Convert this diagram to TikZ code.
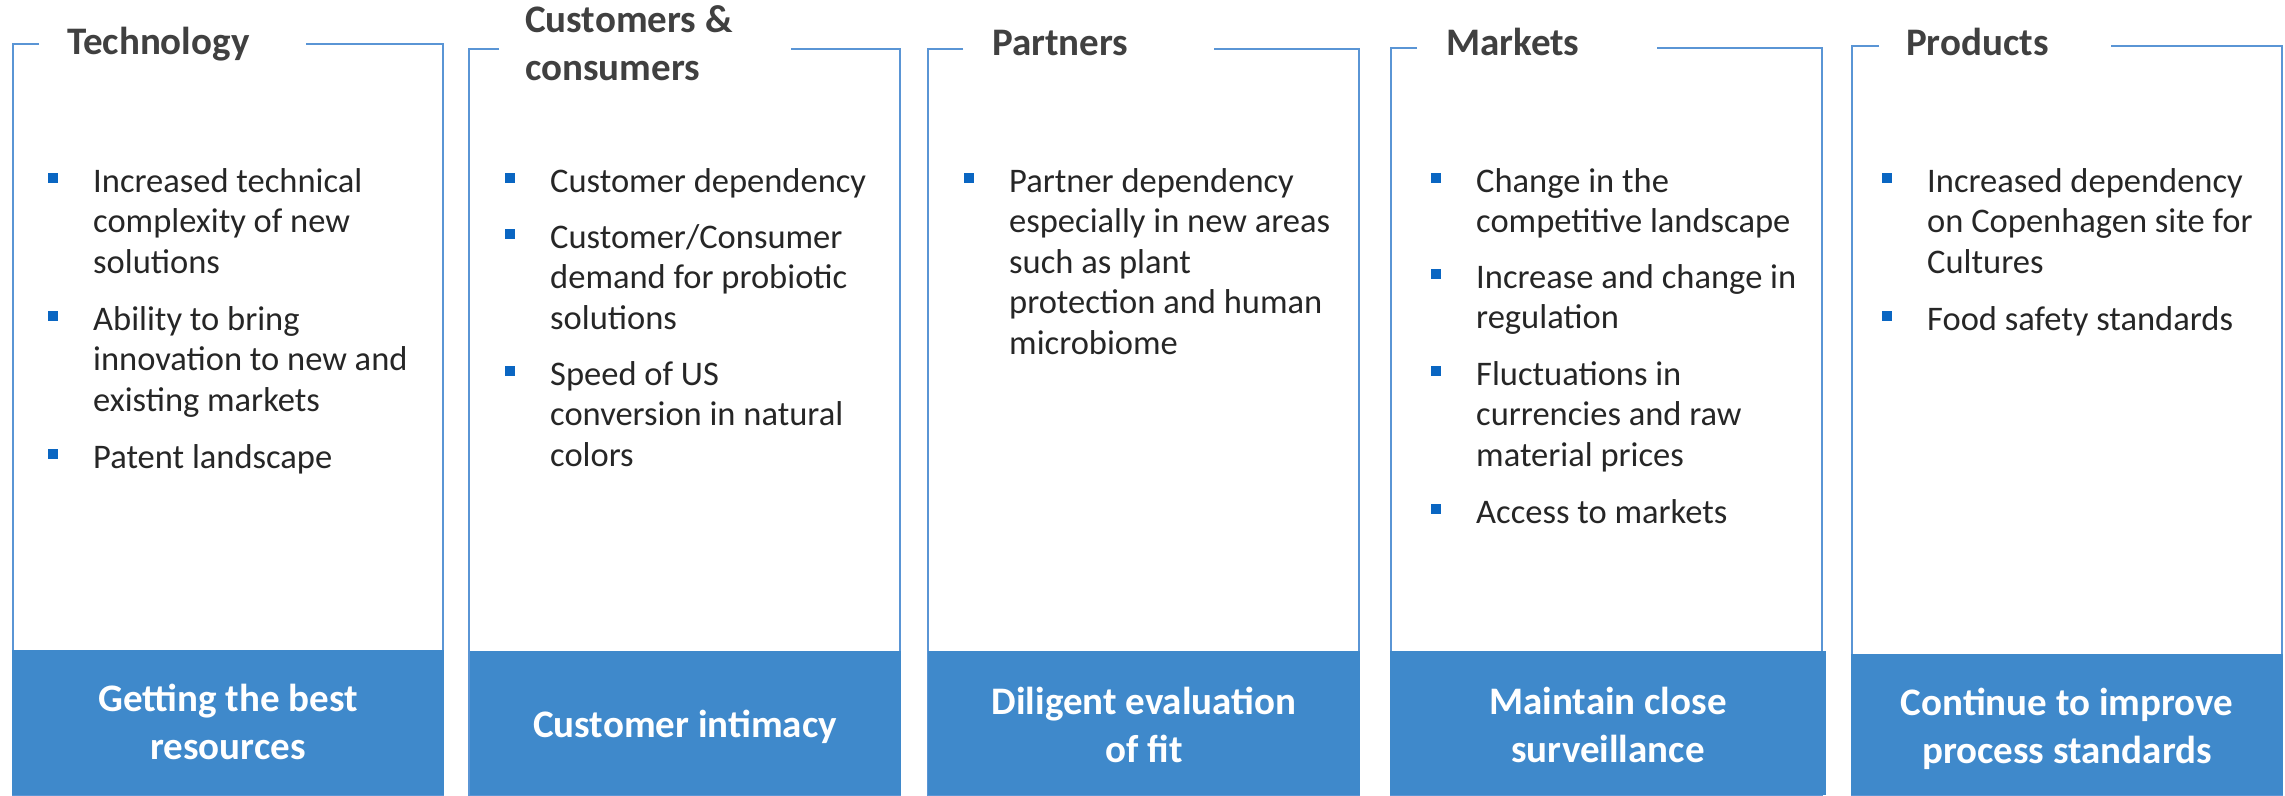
\documentclass[tikz,border=0pt]{standalone}
\usepackage{fontspec}
\setmainfont{Carlito}
\definecolor{frameblue}{HTML}{5A95D5}
\definecolor{boxblue}{HTML}{3F89CB}
\definecolor{bulletblue}{HTML}{0A66C2}
\definecolor{titlegray}{HTML}{404040}
\definecolor{bodytext}{HTML}{262626}
% #1 name, #2 x, #3 baseline of first line, #4 number of extra lines, #5 text
\newcommand\bitem[5]{%
  \node[itemtext] (#1) at (#2,#3+#4*40.5) {#5};
  \node[bulletsq] (#1b) at (#2-40,#3-14) {};}
\begin{document}
\begin{tikzpicture}[x=1pt,y=-1pt,
  frame/.style={draw=frameblue,line width=2pt},
  footbox/.style={fill=boxblue},
  titletext/.style={inner sep=0,anchor=base west,align=left,text=titlegray,font=\fontsize{39}{48}\selectfont\bfseries},
  itemtext/.style={inner sep=0,anchor=base west,align=left,text=bodytext,font=\fontsize{34.5}{40.5}\selectfont},
  bulletsq/.style={fill=bulletblue,inner sep=0,minimum size=10pt},
  foottext/.style={inner sep=0,anchor=base,align=center,text=white,font=\fontsize{39}{48}\selectfont\bfseries}]
\useasboundingbox (0,0) rectangle (2285,795);
% frames
\draw[frame] (39,44) -- (13,44) -- (13,795) -- (443,795) -- (443,44) -- (306,44);
\draw[frame] (499,49) -- (469,49) -- (469,795) -- (900,795) -- (900,49) -- (791,49);
\draw[frame] (963,49) -- (928,49) -- (928,795) -- (1359,795) -- (1359,49) -- (1214,49);
\draw[frame] (1417,48) -- (1391,48) -- (1391,795) -- (1822,795) -- (1822,48) -- (1657,48);
\draw[frame] (1879,46) -- (1852,46) -- (1852,795) -- (2282,795) -- (2282,46) -- (2111,46);
% footer boxes
\fill[footbox] (12,650) rectangle (444,795);
\fill[footbox] (470,651) rectangle (901,795);
\fill[footbox] (928,651) rectangle (1360,795);
\fill[footbox] (1390,651) rectangle (1826,795);
\fill[footbox] (1851,654) rectangle (2283,795);
% titles (anchor = baseline of last line)
\node[titletext] (t1) at (67,54) {Technology};
\node[titletext] (t2) at (525,80) {Customers \&\\consumers};
\node[titletext] (t3) at (992,55) {Partners};
\node[titletext] (t4) at (1446,55) {Markets};
\node[titletext] (t5) at (1906,55) {Products};
% items
\bitem{a1}{93}{192}{2}{Increased technical\\complexity of new\\solutions}
\bitem{a2}{93}{330}{2}{Ability to bring\\innovation to new and\\existing markets}
\bitem{a3}{93}{468}{0}{Patent landscape}
\bitem{b1}{550}{192}{0}{Customer dependency}
\bitem{b2}{550}{248}{2}{Customer/Consumer\\demand for probiotic\\solutions}
\bitem{b3}{550}{385}{2}{Speed of US\\conversion in natural\\colors}
\bitem{c1}{1009}{192}{4}{Partner dependency\\especially in new areas\\such as plant\\protection and human\\microbiome}
\bitem{d1}{1476}{192}{1}{Change in the\\competitive landscape}
\bitem{d2}{1476}{288}{1}{Increase and change in\\regulation}
\bitem{d3}{1476}{385}{2}{Fluctuations in\\currencies and raw\\material prices}
\bitem{d4}{1476}{523}{0}{Access to markets}
\bitem{e1}{1927}{192}{2}{Increased dependency\\on Copenhagen site for\\Cultures}
\bitem{e2}{1927}{330}{0}{Food safety standards}
% footer texts (anchor = baseline of last line)
\node[foottext] (f1) at (228,759) {Getting the best\\resources};
\node[foottext] (f2) at (685,737) {Customer intimacy};
\node[foottext] (f3) at (1144,762) {Diligent evaluation\\of fit};
\node[foottext] (f4) at (1608,762) {Maintain close\\surveillance};
\node[foottext] (f5) at (2067,763) {Continue to improve\\process standards};
\end{tikzpicture}
\end{document}
